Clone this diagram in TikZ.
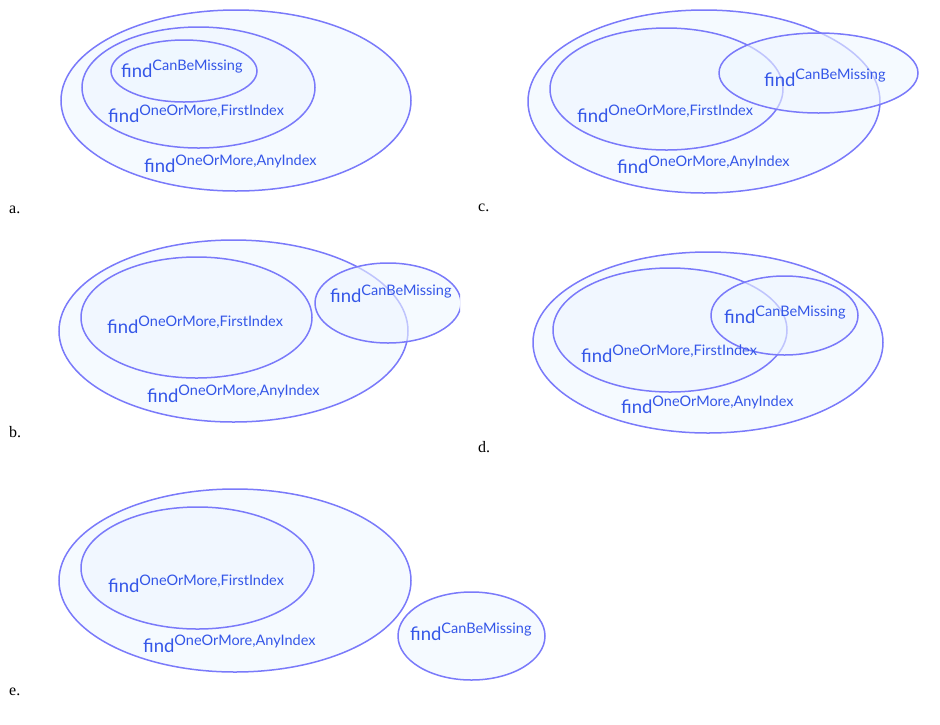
\documentclass[tikz,border=0pt]{standalone}
\usepackage{fontspec}
\setmainfont{Lato}
\newfontfamily\labelfont{Liberation Serif}
\definecolor{setline}{RGB}{122,122,250}
\definecolor{setfill}{RGB}{238,246,255}
\definecolor{settext}{RGB}{52,86,232}
\newcommand{\fnd}[1]{{\fontsize{18.5}{18.5}\selectfont find}\raisebox{7pt}{\fontsize{14.5}{14.5}\selectfont #1}}
\tikzset{
  setell/.style={draw=setline, line width=1.5pt, fill=setfill, fill opacity=0.6},
  settxt/.style={anchor=base west, inner sep=0pt, text=settext},
  panel/.style={anchor=base west, inner sep=0pt, font=\labelfont\fontsize{16}{16}\selectfont}
}
\begin{document}
\begin{tikzpicture}[x=1pt,y=-1pt]
\useasboundingbox (0,0) rectangle (940,724);
% ---- a ----
\draw[setell] (236,100.5) ellipse [x radius=175, y radius=90.5];
\draw[setell] (198.5,87.5) ellipse [x radius=116.5, y radius=60.5];
\draw[setell] (184,71) ellipse [x radius=73, y radius=31];
\node[settxt] (a1) at (121,77) {\fnd{CanBeMissing}};
\node[settxt] (a2) at (108,122) {\fnd{OneOrMore,FirstIndex}};
\node[settxt] (a3) at (144,172) {\fnd{OneOrMore,AnyIndex}};
\node[panel] (la) at (9,213) {a.};
% ---- b ----
\draw[setell] (233.5,331) ellipse [x radius=174.5, y radius=91];
\draw[setell] (196.5,317.5) ellipse [x radius=115.5, y radius=60.5];
\begin{scope}
\clip (0,0) rectangle (460,724);
\draw[setell] (388,303) ellipse [x radius=73, y radius=40];
\end{scope}
\node[settxt] (b1) at (330,302) {\fnd{CanBeMissing}};
\node[settxt] (b2) at (107,333) {\fnd{OneOrMore,FirstIndex}};
\node[settxt] (b3) at (147,402) {\fnd{OneOrMore,AnyIndex}};
\node[panel] (lb) at (9,437) {b.};
% ---- c ----
\draw[setell] (704,101.5) ellipse [x radius=176, y radius=91.5];
\draw[setell] (666.5,89) ellipse [x radius=116.5, y radius=61];
\draw[setell] (818.5,73) ellipse [x radius=99.5, y radius=40];
\node[settxt] (c1) at (764,86) {\fnd{CanBeMissing}};
\node[settxt] (c2) at (577,122) {\fnd{OneOrMore,FirstIndex}};
\node[settxt] (c3) at (617,173) {\fnd{OneOrMore,AnyIndex}};
\node[panel] (lc) at (478,211) {c.};
% ---- d ----
\draw[setell] (708,342.5) ellipse [x radius=175, y radius=90.5];
\draw[setell] (670,330) ellipse [x radius=117, y radius=62];
\draw[setell] (784.5,315.5) ellipse [x radius=73.5, y radius=39.5];
\node[settxt] (d1) at (724,323) {\fnd{CanBeMissing}};
\node[settxt] (d2) at (581,362) {\fnd{OneOrMore,FirstIndex}};
\node[settxt] (d3) at (621,413) {\fnd{OneOrMore,AnyIndex}};
\node[panel] (ld) at (478,452) {d.};
% ---- e ----
\draw[setell] (235,580.5) ellipse [x radius=176, y radius=91.5];
\draw[setell] (197.5,568) ellipse [x radius=116.5, y radius=61];
\draw[setell] (471.5,636) ellipse [x radius=73.5, y radius=44];
\node[settxt] (e1) at (410,640) {\fnd{CanBeMissing}};
\node[settxt] (e2) at (108,592) {\fnd{OneOrMore,FirstIndex}};
\node[settxt] (e3) at (143,652) {\fnd{OneOrMore,AnyIndex}};
\node[panel] (le) at (9,695) {e.};
\end{tikzpicture}
\end{document}
